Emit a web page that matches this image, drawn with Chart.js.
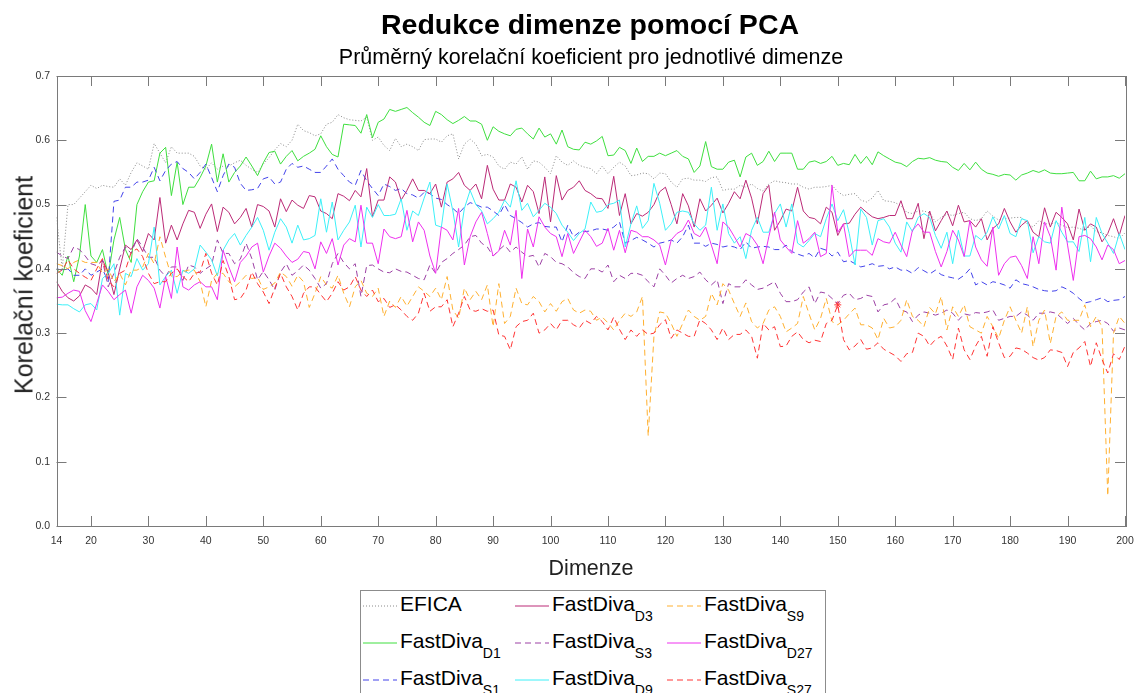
<!DOCTYPE html>
<html>
<head>
<meta charset="utf-8">
<title>Redukce dimenze pomocí PCA</title>
<script src="https://cdn.jsdelivr.net/npm/chart.js@4.4.0/dist/chart.umd.min.js"></script>
<style>
  html, body { margin: 0; padding: 0; background: #fff; }
  #wrap { position: relative; width: 1136px; height: 693px; overflow: hidden;
          font-family: "Liberation Sans", Arial, Helvetica, sans-serif; color: #000; }
  #chart { position: absolute; left: 0; top: 0; }
  .txt { position: absolute; white-space: nowrap; line-height: 1; }
  #title { left: 0; width: 1180px; text-align: center; top: 10px; font-size: 28.5px; font-weight: bold; }
  #subtitle { left: 0; width: 1182px; text-align: center; top: 47px; font-size: 21.5px; }
  #xtitle { left: 0; width: 1182px; text-align: center; top: 558px; font-size: 21.5px; color: #222; }
  #ytitle { left: 23.5px; top: 285px; font-size: 25px; color: #222;
            transform: translate(-50%, -50%) rotate(-90deg); }
  #legend { position: absolute; left: 359.5px; top: 590px; width: 464px; height: 130px;
            border: 1px solid #8c8c8c; background: #fff; }
  .item { position: absolute; white-space: nowrap; font-size: 21px; line-height: 21px; }
  .item sub { font-size: 14px; vertical-align: -10px; line-height: 0; }
</style>
</head>
<body>
<div id="wrap">
  <canvas id="chart" width="1136" height="693"></canvas>
  <div class="txt" id="title">Redukce dimenze pomocí PCA</div>
  <div class="txt" id="subtitle">Průměrný korelační koeficient pro jednotlivé dimenze</div>
  <div class="txt" id="xtitle">Dimenze</div>
  <div class="txt" id="ytitle">Korelační koeficient</div>
  <div id="legend"></div>
</div>
<script>
// Dimenze 14..200 (jedna hodnota na dimenzi)
const dims = [];
for (let d = 14; d <= 200; d++) dims.push(d);

const xTicks = [14, 20, 30, 40, 50, 60, 70, 80, 90, 100, 110, 120, 130, 140, 150, 160, 170, 180, 190, 200];
const yTicks = [0, 0.1, 0.2, 0.3, 0.4, 0.5, 0.6, 0.7];

const efica = [
  0.48, 0.40, 0.50, 0.50, 0.51, 0.52, 0.53, 0.525, 0.53, 0.528,
  0.527, 0.54, 0.53, 0.55, 0.565, 0.56, 0.555, 0.595, 0.58, 0.565,
  0.59, 0.58, 0.58, 0.58, 0.575, 0.56, 0.555, 0.565, 0.555, 0.56,
  0.56, 0.565, 0.569, 0.561, 0.555, 0.55, 0.563, 0.573, 0.585, 0.595,
  0.59, 0.60, 0.625, 0.615, 0.612, 0.607, 0.61, 0.625, 0.628, 0.64,
  0.635, 0.632, 0.631, 0.63, 0.636, 0.60, 0.605, 0.592, 0.584, 0.603,
  0.59, 0.594, 0.59, 0.584, 0.601, 0.602, 0.602, 0.597, 0.607, 0.61,
  0.571, 0.594, 0.602, 0.594, 0.576, 0.578, 0.574, 0.56, 0.555, 0.566,
  0.563, 0.574, 0.555, 0.568, 0.566, 0.558, 0.548, 0.576, 0.566, 0.561,
  0.568, 0.561, 0.558, 0.556, 0.548, 0.56, 0.548, 0.558, 0.566, 0.56,
  0.545, 0.546, 0.549, 0.548, 0.54, 0.549, 0.548, 0.535, 0.527, 0.54,
  0.541, 0.538, 0.538, 0.536, 0.542, 0.543, 0.522, 0.524, 0.524, 0.53,
  0.527, 0.532, 0.525, 0.521, 0.532, 0.537, 0.535, 0.534, 0.532, 0.532,
  0.527, 0.524, 0.527, 0.527, 0.528, 0.53, 0.52, 0.514, 0.516, 0.517,
  0.507, 0.504, 0.51, 0.522, 0.506, 0.505, 0.503, 0.498, 0.488, 0.486,
  0.49, 0.49, 0.487, 0.473, 0.48, 0.485, 0.483, 0.486, 0.488, 0.478,
  0.475, 0.478, 0.49, 0.482, 0.476, 0.478, 0.479, 0.48, 0.48, 0.47,
  0.465, 0.475, 0.47, 0.47, 0.472, 0.468, 0.464, 0.465, 0.463, 0.46,
  0.467, 0.458, 0.456, 0.452, 0.45, 0.447, 0.456
];

const fdD1 = [
  0.40, 0.39, 0.42, 0.38, 0.42, 0.50, 0.42, 0.41, 0.43, 0.39,
  0.445, 0.48, 0.43, 0.41, 0.50, 0.52, 0.535, 0.537, 0.58, 0.589,
  0.514, 0.566, 0.50, 0.527, 0.527, 0.542, 0.56, 0.594, 0.535, 0.579,
  0.535, 0.55, 0.56, 0.574, 0.56, 0.545, 0.565, 0.581, 0.583, 0.563,
  0.575, 0.584, 0.568, 0.575, 0.58, 0.586, 0.607, 0.59, 0.578, 0.574,
  0.625, 0.624, 0.623, 0.611, 0.64, 0.604, 0.628, 0.633, 0.648, 0.645,
  0.648, 0.651, 0.643, 0.636, 0.628, 0.623, 0.645, 0.64, 0.632, 0.626,
  0.631, 0.637, 0.63, 0.63, 0.625, 0.60, 0.621, 0.614, 0.61, 0.607,
  0.617, 0.619, 0.61, 0.602, 0.619, 0.605, 0.61, 0.594, 0.616, 0.59,
  0.586, 0.585, 0.597, 0.594, 0.599, 0.606, 0.576, 0.577, 0.589, 0.584,
  0.564, 0.588, 0.567, 0.575, 0.575, 0.58, 0.576, 0.58, 0.584, 0.575,
  0.571, 0.55, 0.56, 0.598, 0.559, 0.555, 0.555, 0.566, 0.569, 0.543,
  0.574, 0.58, 0.561, 0.567, 0.583, 0.567, 0.58, 0.58, 0.58, 0.555,
  0.555, 0.566, 0.568, 0.564, 0.567, 0.575, 0.561, 0.564, 0.562, 0.578,
  0.564, 0.575, 0.562, 0.582, 0.576, 0.571, 0.566, 0.564, 0.559, 0.567,
  0.572, 0.571, 0.573, 0.569, 0.567, 0.566, 0.558, 0.553, 0.564, 0.554,
  0.566, 0.555, 0.549, 0.547, 0.544, 0.547, 0.546, 0.538, 0.546, 0.549,
  0.553, 0.55, 0.554, 0.549, 0.548, 0.548, 0.549, 0.55, 0.537, 0.537,
  0.552, 0.54, 0.543, 0.543, 0.545, 0.541, 0.548
];

const fdS1 = [
  0.40, 0.398, 0.40, 0.39, 0.39, 0.40, 0.39, 0.395, 0.40, 0.38,
  0.505, 0.507, 0.527, 0.527, 0.535, 0.535, 0.538, 0.558, 0.537, 0.553,
  0.563, 0.567, 0.556, 0.55, 0.54, 0.55, 0.563, 0.542, 0.52, 0.545,
  0.563, 0.558, 0.533, 0.522, 0.523, 0.525, 0.54, 0.543, 0.532, 0.535,
  0.555, 0.564, 0.558, 0.56, 0.555, 0.55, 0.55, 0.56, 0.571, 0.555,
  0.545, 0.535, 0.53, 0.553, 0.537, 0.525, 0.514, 0.532, 0.528, 0.522,
  0.525, 0.517, 0.515, 0.51, 0.519, 0.517, 0.51, 0.508, 0.50, 0.494,
  0.486, 0.496, 0.503, 0.50, 0.496, 0.496, 0.49, 0.483, 0.50, 0.483,
  0.478, 0.472, 0.465, 0.47, 0.472, 0.466, 0.465, 0.465, 0.442, 0.468,
  0.45, 0.457, 0.458, 0.459, 0.462, 0.462, 0.46, 0.465, 0.473, 0.44,
  0.444, 0.449, 0.445, 0.44, 0.434, 0.44, 0.442, 0.445, 0.44, 0.45,
  0.468, 0.44, 0.44, 0.435, 0.44, 0.438, 0.434, 0.436, 0.434, 0.43,
  0.442, 0.432, 0.434, 0.435, 0.434, 0.43, 0.43, 0.437, 0.427, 0.423,
  0.42, 0.424, 0.417, 0.432, 0.429, 0.42, 0.426, 0.411, 0.413, 0.408,
  0.403, 0.405, 0.408, 0.404, 0.405, 0.40, 0.403, 0.398, 0.398, 0.393,
  0.402, 0.397, 0.392, 0.398, 0.391, 0.388, 0.386, 0.384, 0.39, 0.40,
  0.375, 0.38, 0.375, 0.38, 0.378, 0.375, 0.37, 0.383, 0.377, 0.375,
  0.372, 0.368, 0.366, 0.365, 0.366, 0.372, 0.368, 0.362, 0.354, 0.347,
  0.349, 0.352, 0.355, 0.349, 0.351, 0.352, 0.357
];

const fdD3 = [
  0.38, 0.365, 0.355, 0.35, 0.358, 0.375, 0.37, 0.36, 0.414, 0.395,
  0.36, 0.40, 0.437, 0.43, 0.445, 0.427, 0.455, 0.445, 0.511, 0.44,
  0.468, 0.445, 0.47, 0.491, 0.488, 0.463, 0.485, 0.501, 0.458, 0.496,
  0.488, 0.47, 0.48, 0.494, 0.465, 0.50, 0.497, 0.49, 0.465, 0.509,
  0.489, 0.507, 0.499, 0.494, 0.514, 0.512, 0.49, 0.486, 0.478, 0.517,
  0.513, 0.506, 0.522, 0.512, 0.556, 0.481, 0.507, 0.507, 0.543, 0.535,
  0.507, 0.522, 0.54, 0.522, 0.522, 0.517, 0.532, 0.496, 0.535, 0.54,
  0.55, 0.53, 0.522, 0.532, 0.509, 0.561, 0.524, 0.507, 0.507, 0.532,
  0.527, 0.504, 0.53, 0.52, 0.486, 0.543, 0.473, 0.545, 0.507, 0.522,
  0.527, 0.537, 0.522, 0.517, 0.51, 0.509, 0.494, 0.544, 0.483, 0.517,
  0.47, 0.486, 0.482, 0.488, 0.50, 0.52, 0.527, 0.50, 0.47, 0.517,
  0.498, 0.465, 0.509, 0.49, 0.499, 0.51, 0.487, 0.502, 0.52, 0.509,
  0.538, 0.51, 0.47, 0.517, 0.53, 0.46, 0.475, 0.493, 0.49, 0.527,
  0.49, 0.48, 0.478, 0.47, 0.496, 0.488, 0.452, 0.47, 0.471, 0.485,
  0.496, 0.488, 0.481, 0.478, 0.48, 0.483, 0.483, 0.506, 0.478, 0.478,
  0.502, 0.447, 0.49, 0.459, 0.475, 0.49, 0.467, 0.499, 0.473, 0.475,
  0.465, 0.478, 0.445, 0.463, 0.47, 0.494, 0.473, 0.457, 0.468, 0.475,
  0.457, 0.45, 0.495, 0.465, 0.488, 0.48, 0.47, 0.445, 0.493, 0.46,
  0.47, 0.465, 0.442, 0.455, 0.478, 0.452, 0.483
];

const fdS3 = [
  0.426, 0.42, 0.416, 0.434, 0.43, 0.42, 0.408, 0.405, 0.413, 0.372,
  0.393, 0.418, 0.434, 0.424, 0.447, 0.434, 0.418, 0.418, 0.398, 0.388,
  0.403, 0.403, 0.382, 0.406, 0.403, 0.393, 0.40, 0.406, 0.445, 0.424,
  0.424, 0.408, 0.415, 0.44, 0.416, 0.383, 0.396, 0.383, 0.367, 0.395,
  0.408, 0.39, 0.397, 0.406, 0.398, 0.385, 0.37, 0.377, 0.408, 0.424,
  0.41, 0.40, 0.408, 0.357, 0.405, 0.406, 0.40, 0.395, 0.394, 0.40,
  0.396, 0.395, 0.39, 0.385, 0.383, 0.406, 0.393, 0.41, 0.416, 0.424,
  0.43, 0.437, 0.45, 0.452, 0.44, 0.434, 0.42, 0.429, 0.437, 0.426,
  0.434, 0.426, 0.419, 0.421, 0.403, 0.424, 0.419, 0.41, 0.408, 0.403,
  0.394, 0.388, 0.385, 0.40, 0.40, 0.395, 0.406, 0.38, 0.39, 0.385,
  0.393, 0.393, 0.39, 0.38, 0.372, 0.40, 0.39, 0.378, 0.385, 0.39,
  0.385, 0.388, 0.395, 0.383, 0.375, 0.383, 0.346, 0.377, 0.372, 0.372,
  0.383, 0.375, 0.368, 0.37, 0.375, 0.38, 0.362, 0.349, 0.349, 0.352,
  0.364, 0.372, 0.346, 0.364, 0.362, 0.354, 0.346, 0.359, 0.362, 0.352,
  0.354, 0.359, 0.357, 0.333, 0.344, 0.346, 0.354, 0.336, 0.333, 0.318,
  0.328, 0.333, 0.331, 0.328, 0.331, 0.336, 0.331, 0.32, 0.33, 0.328,
  0.332, 0.331, 0.333, 0.336, 0.32, 0.323, 0.326, 0.326, 0.333, 0.328,
  0.32, 0.331, 0.331, 0.333, 0.331, 0.323, 0.315, 0.323, 0.313, 0.305,
  0.315, 0.318, 0.32, 0.315, 0.303, 0.308, 0.305
];

const fdD9 = [
  0.345, 0.344, 0.344, 0.338, 0.333, 0.344, 0.346, 0.336, 0.385, 0.393,
  0.408, 0.328, 0.393, 0.388, 0.416, 0.398, 0.408, 0.465, 0.375, 0.388,
  0.398, 0.362, 0.398, 0.393, 0.40, 0.437, 0.426, 0.414, 0.389, 0.429,
  0.445, 0.455, 0.437, 0.452, 0.465, 0.48, 0.46, 0.429, 0.457, 0.478,
  0.465, 0.44, 0.468, 0.445, 0.447, 0.452, 0.509, 0.457, 0.504, 0.445,
  0.46, 0.473, 0.499, 0.434, 0.496, 0.48, 0.50, 0.483, 0.483, 0.485,
  0.509, 0.46, 0.49, 0.483, 0.51, 0.535, 0.468, 0.465, 0.532, 0.49,
  0.434, 0.494, 0.522, 0.50, 0.49, 0.47, 0.478, 0.488, 0.507, 0.496,
  0.537, 0.491, 0.502, 0.481, 0.491, 0.502, 0.496, 0.486, 0.468, 0.457,
  0.444, 0.455, 0.462, 0.504, 0.488, 0.49, 0.50, 0.502, 0.507, 0.434,
  0.47, 0.498, 0.463, 0.475, 0.533, 0.502, 0.46, 0.47, 0.488, 0.49,
  0.488, 0.47, 0.46, 0.468, 0.527, 0.46, 0.501, 0.455, 0.44, 0.45,
  0.416, 0.46, 0.48, 0.457, 0.457, 0.486, 0.501, 0.465, 0.501, 0.44,
  0.434, 0.444, 0.455, 0.45, 0.478, 0.501, 0.475, 0.492, 0.455, 0.406,
  0.493, 0.48, 0.437, 0.475, 0.478, 0.465, 0.44, 0.426, 0.473, 0.458,
  0.48, 0.486, 0.48, 0.452, 0.432, 0.457, 0.408, 0.46, 0.42, 0.42,
  0.452, 0.445, 0.457, 0.481, 0.462, 0.483, 0.455, 0.45, 0.478, 0.475,
  0.425, 0.45, 0.442, 0.44, 0.475, 0.457, 0.442, 0.442, 0.427, 0.48,
  0.411, 0.48, 0.455, 0.44, 0.424, 0.455, 0.43
];

const fdS9 = [
  0.408, 0.405, 0.40, 0.41, 0.414, 0.41, 0.41, 0.41, 0.393, 0.40,
  0.38, 0.393, 0.375, 0.398, 0.398, 0.403, 0.424, 0.408, 0.45, 0.418,
  0.388, 0.388, 0.396, 0.398, 0.398, 0.38, 0.341, 0.382, 0.393, 0.393,
  0.38, 0.372, 0.38, 0.39, 0.385, 0.387, 0.368, 0.372, 0.378, 0.395,
  0.388, 0.373, 0.39, 0.38, 0.34, 0.362, 0.388, 0.375, 0.37, 0.39,
  0.362, 0.341, 0.372, 0.382, 0.362, 0.357, 0.37, 0.326, 0.35, 0.34,
  0.357, 0.342, 0.357, 0.372, 0.365, 0.357, 0.37, 0.352, 0.388, 0.336,
  0.323, 0.37, 0.352, 0.365, 0.352, 0.375, 0.31, 0.377, 0.315, 0.326,
  0.37, 0.346, 0.344, 0.357, 0.349, 0.333, 0.346, 0.334, 0.349, 0.354,
  0.336, 0.331, 0.336, 0.334, 0.32, 0.325, 0.316, 0.305, 0.32, 0.331,
  0.326, 0.333, 0.357, 0.14, 0.295, 0.333, 0.331, 0.315, 0.295, 0.315,
  0.336, 0.326, 0.32, 0.326, 0.362, 0.344, 0.377, 0.367, 0.346, 0.326,
  0.347, 0.318, 0.308, 0.315, 0.336, 0.341, 0.326, 0.302, 0.308, 0.315,
  0.357, 0.33, 0.305, 0.323, 0.354, 0.318, 0.313, 0.32, 0.33, 0.339,
  0.313, 0.313, 0.308, 0.29, 0.323, 0.308, 0.31, 0.32, 0.352, 0.326,
  0.32, 0.31, 0.34, 0.33, 0.357, 0.305, 0.341, 0.326, 0.344, 0.31,
  0.305, 0.30, 0.326, 0.31, 0.292, 0.32, 0.341, 0.32, 0.30, 0.341,
  0.279, 0.32, 0.336, 0.284, 0.326, 0.333, 0.32, 0.32, 0.32, 0.344,
  0.31, 0.326, 0.31, 0.047, 0.30, 0.326, 0.315
];

const fdD27 = [
  0.355, 0.356, 0.362, 0.367, 0.365, 0.335, 0.318, 0.346, 0.375, 0.365,
  0.352, 0.36, 0.367, 0.331, 0.372, 0.39, 0.382, 0.37, 0.339, 0.388,
  0.354, 0.434, 0.372, 0.367, 0.375, 0.38, 0.372, 0.372, 0.352, 0.429,
  0.403, 0.38, 0.41, 0.42, 0.434, 0.44, 0.395, 0.42, 0.44, 0.432,
  0.42, 0.41, 0.415, 0.427, 0.425, 0.40, 0.442, 0.424, 0.447, 0.406,
  0.437, 0.447, 0.442, 0.499, 0.44, 0.44, 0.408, 0.462, 0.45, 0.447,
  0.45, 0.491, 0.442, 0.473, 0.46, 0.42, 0.393, 0.465, 0.46, 0.445,
  0.494, 0.406, 0.45, 0.473, 0.488, 0.455, 0.42, 0.428, 0.46, 0.437,
  0.491, 0.385, 0.462, 0.434, 0.481, 0.465, 0.455, 0.45, 0.419, 0.455,
  0.424, 0.442, 0.46, 0.45, 0.435, 0.44, 0.463, 0.429, 0.46, 0.425,
  0.46, 0.457, 0.45, 0.45, 0.445, 0.437, 0.406, 0.445, 0.455, 0.46,
  0.476, 0.455, 0.45, 0.465, 0.437, 0.408, 0.473, 0.465, 0.45, 0.434,
  0.455, 0.45, 0.437, 0.408, 0.45, 0.488, 0.445, 0.434, 0.424, 0.475,
  0.44, 0.447, 0.457, 0.419, 0.424, 0.53, 0.457, 0.47, 0.419, 0.429,
  0.429, 0.429, 0.421, 0.447, 0.442, 0.44, 0.457, 0.437, 0.419, 0.46,
  0.47, 0.457, 0.457, 0.427, 0.403, 0.427, 0.46, 0.445, 0.419, 0.475,
  0.434, 0.414, 0.404, 0.465, 0.39, 0.408, 0.418, 0.42, 0.405, 0.385,
  0.45, 0.408, 0.473, 0.45, 0.398, 0.496, 0.437, 0.382, 0.45, 0.452,
  0.447, 0.434, 0.414, 0.437, 0.43, 0.408, 0.413
];

const fdS27 = [
  0.393, 0.398, 0.414, 0.40, 0.393, 0.387, 0.382, 0.40, 0.416, 0.382,
  0.372, 0.393, 0.398, 0.426, 0.431, 0.419, 0.393, 0.377, 0.38, 0.38,
  0.393, 0.40, 0.388, 0.38, 0.393, 0.395, 0.424, 0.393, 0.375, 0.413,
  0.388, 0.352, 0.354, 0.367, 0.395, 0.377, 0.364, 0.346, 0.37, 0.393,
  0.372, 0.357, 0.336, 0.362, 0.372, 0.372, 0.36, 0.349, 0.362, 0.38,
  0.367, 0.372, 0.388, 0.367, 0.357, 0.367, 0.349, 0.354, 0.34, 0.344,
  0.336, 0.326, 0.32, 0.331, 0.362, 0.334, 0.341, 0.341, 0.352, 0.31,
  0.331, 0.357, 0.336, 0.334, 0.338, 0.334, 0.336, 0.297, 0.295, 0.274,
  0.31, 0.318, 0.32, 0.331, 0.30, 0.305, 0.315, 0.305, 0.32, 0.32,
  0.313, 0.308, 0.32, 0.315, 0.326, 0.318, 0.305, 0.325, 0.306, 0.29,
  0.305, 0.295, 0.305, 0.298, 0.30, 0.313, 0.321, 0.292, 0.305, 0.30,
  0.295, 0.295, 0.321, 0.315, 0.305, 0.29, 0.308, 0.29, 0.298, 0.298,
  0.305, 0.295, 0.261, 0.315, 0.305, 0.31, 0.279, 0.28, 0.295, 0.302,
  0.29, 0.285, 0.289, 0.287, 0.315, 0.32, 0.344, 0.29, 0.274, 0.28,
  0.29, 0.275, 0.277, 0.285, 0.275, 0.27, 0.265, 0.256, 0.268, 0.27,
  0.30, 0.295, 0.28, 0.29, 0.295, 0.28, 0.259, 0.308, 0.274, 0.259,
  0.28, 0.295, 0.264, 0.31, 0.285, 0.262, 0.264, 0.277, 0.275, 0.269,
  0.262, 0.258, 0.262, 0.274, 0.273, 0.27, 0.248, 0.27, 0.277, 0.287,
  0.248, 0.285, 0.259, 0.238, 0.268, 0.259, 0.28
];

// jeden bod oznaceny hvezdickou (dimenze 150)
const starDims = [150];

const series = [
  { name: 'EFICA',    sub: '',    data: efica, color: '#8a8a8a', dash: [1, 2] },
  { name: 'FastDiva', sub: 'D1',  data: fdD1,  color: '#3fdf3f', dash: [] },
  { name: 'FastDiva', sub: 'S1',  data: fdS1,  color: '#4343ea', dash: [6, 4] },
  { name: 'FastDiva', sub: 'D3',  data: fdD3,  color: '#bb2a77', dash: [] },
  { name: 'FastDiva', sub: 'S3',  data: fdS3,  color: '#9c40a4', dash: [6, 4] },
  { name: 'FastDiva', sub: 'D9',  data: fdD9,  color: '#3cf0f8', dash: [] },
  { name: 'FastDiva', sub: 'S9',  data: fdS9,  color: '#ffb030', dash: [6, 4] },
  { name: 'FastDiva', sub: 'D27', data: fdD27, color: '#ee30ee', dash: [] },
  { name: 'FastDiva', sub: 'S27', data: fdS27, color: '#ff3434', dash: [6, 4] }
];

const datasets = series.map((s, i) => ({
  label: s.name + s.sub,
  data: dims.map((d, j) => ({ x: d, y: s.data[j] })),
  borderColor: s.color,
  backgroundColor: s.color,
  borderWidth: 1,
  borderDash: s.dash,
  pointRadius: s.sub === 'S27' ? dims.map(d => starDims.includes(d) ? 3.5 : 0) : 0,
  pointStyle: 'star',
  pointBorderColor: s.color,
  pointBorderWidth: 1,
  tension: 0,
  fill: false,
  order: series.length - i
}));

// ramecek grafu s tickami smerem dovnitr
const frame = {
  id: 'frame',
  afterDatasetsDraw(chart) {
    const { ctx, chartArea: a, scales: { x, y } } = chart;
    const len = 10;
    ctx.save();
    ctx.strokeStyle = '#7a7a7a';
    ctx.lineWidth = 1;
    ctx.beginPath();
    xTicks.forEach(v => {
      const px = Math.round(x.getPixelForValue(v)) + 0.5;
      ctx.moveTo(px, a.bottom); ctx.lineTo(px, a.bottom - len);
      ctx.moveTo(px, a.top); ctx.lineTo(px, a.top + len);
    });
    yTicks.forEach(v => {
      const py = Math.round(y.getPixelForValue(v)) + 0.5;
      ctx.moveTo(a.left, py); ctx.lineTo(a.left + len, py);
      ctx.moveTo(a.right, py); ctx.lineTo(a.right - len, py);
    });
    ctx.stroke();
    ctx.strokeRect(Math.round(a.left) + 0.5, Math.round(a.top) + 0.5,
                   Math.round(a.width), Math.round(a.height));
    ctx.restore();
  }
};

const tickFont = { family: '"Liberation Sans", Arial, sans-serif', size: 10.5 };

new Chart(document.getElementById('chart').getContext('2d'), {
  type: 'line',
  data: { datasets: datasets },
  options: {
    responsive: false,
    animation: false,
    layout: { padding: { top: 76, right: 11, left: 0, bottom: 0 } },
    plugins: {
      legend: { display: false },
      title: { display: false },
      tooltip: { enabled: false }
    },
    scales: {
      x: {
        type: 'linear',
        min: 14,
        max: 200,
        grid: { display: false, drawTicks: false },
        border: { display: false },
        afterBuildTicks: s => { s.ticks = xTicks.map(v => ({ value: v })); },
        afterFit: s => { s.height = 167; s.paddingLeft = 0; s.paddingRight = 0; },
        ticks: {
          autoSkip: false, maxRotation: 0, padding: 9,
          font: tickFont, color: '#333',
          callback: v => String(v)
        }
      },
      y: {
        min: 0,
        max: 0.7,
        grid: { display: false, drawTicks: false },
        border: { display: false },
        afterBuildTicks: s => { s.ticks = yTicks.map(v => ({ value: v })); },
        afterFit: s => { s.width = 56.5; s.paddingTop = 0; s.paddingBottom = 0; },
        ticks: {
          padding: 6.5,
          font: tickFont, color: '#333',
          callback: v => Number(v).toFixed(1)
        }
      }
    }
  },
  plugins: [frame]
});

// legenda (3 radky, razeno po sloupcich); rowBase = uctaria radku
const legend = document.getElementById('legend');
const colX = [2.5, 154.5, 306.5];
const rowBase = [20, 57, 94];
series.forEach((s, i) => {
  const col = Math.floor(i / 3), row = i % 3;
  const x0 = colX[col], base = rowBase[row];
  const yl = base - 5;
  const svg = document.createElementNS('http://www.w3.org/2000/svg', 'svg');
  svg.setAttribute('width', '34'); svg.setAttribute('height', '4');
  svg.style.left = x0 + 'px'; svg.style.top = (yl - 2) + 'px'; svg.style.position = 'absolute';
  const ln = document.createElementNS('http://www.w3.org/2000/svg', 'line');
  ln.setAttribute('x1', '0'); ln.setAttribute('x2', '34');
  ln.setAttribute('y1', '2'); ln.setAttribute('y2', '2');
  ln.setAttribute('stroke', s.color); ln.setAttribute('stroke-width', '1');
  if (s.dash.length) ln.setAttribute('stroke-dasharray', s.dash.join(' '));
  svg.appendChild(ln);
  legend.appendChild(svg);
  const t = document.createElement('div');
  t.className = 'item';
  t.style.left = (x0 + 37) + 'px';
  t.style.top = (base - 18) + 'px';
  t.innerHTML = s.name + (s.sub ? '<sub>' + s.sub + '</sub>' : '');
  legend.appendChild(t);
});
</script>
</body>
</html>
